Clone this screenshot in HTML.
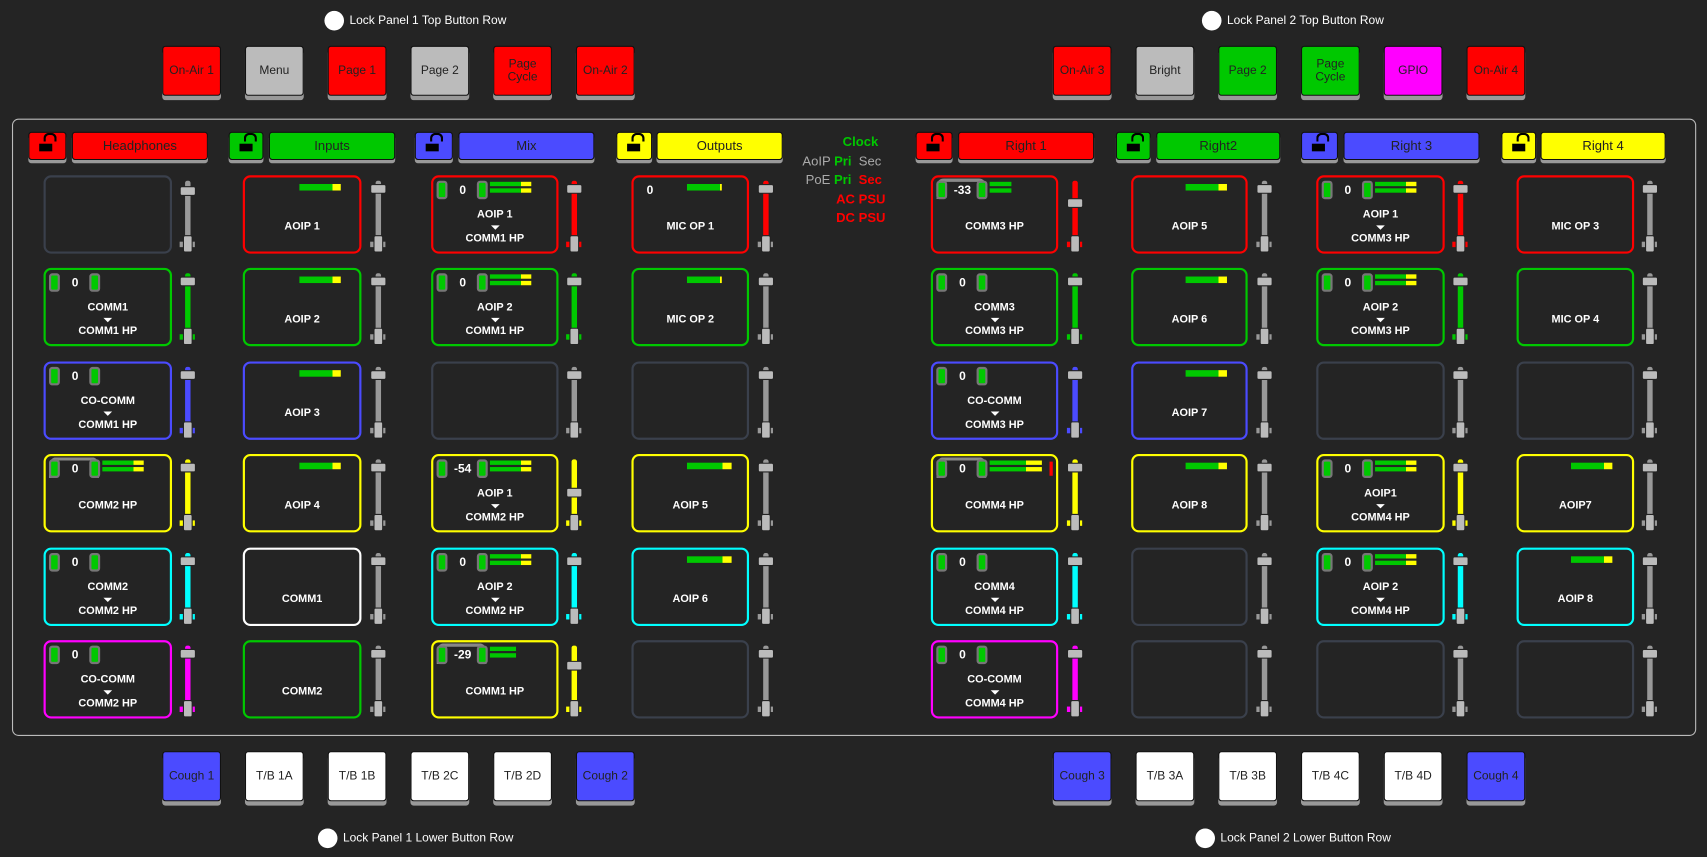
<!DOCTYPE html>
<html><head><meta charset="utf-8"><style>
html,body{margin:0;padding:0;background:#242424;width:1707px;height:857px;overflow:hidden}
#s{position:absolute;left:0;top:0;width:1568px;height:787px;transform:scale(1.0887);transform-origin:0 0;font-family:"Liberation Sans",sans-serif;color:#fff}
.a{position:absolute}
.lk{position:absolute;width:18px;height:18px;border-radius:50%;background:#fff}
.lt{position:absolute;font-size:11px;color:#fff;line-height:14px}
.bt{position:absolute;width:54px;height:46px;border:1px solid #111;border-radius:3px;box-sizing:border-box;box-shadow:0 4px 0 #999;color:#222;font-size:11px;display:flex;align-items:center;justify-content:center;text-align:center;line-height:12px}
.hl{position:absolute;top:121px;height:26px;border:1px solid #111;border-radius:3px;box-sizing:border-box;box-shadow:0 3px 0 #999;display:flex;align-items:center;justify-content:center;font-size:12px;color:#222}
.pad{position:absolute;width:8px;height:6px;border:2px solid #000;border-bottom:none;border-radius:5px 5px 0 0;top:0px;left:13px}
.pd2{position:absolute;width:12px;height:7px;background:#000;top:10px;left:9px}
.t{position:absolute;height:72px;border:2px solid #3a404c;border-radius:7px;box-sizing:border-box}
.m{position:absolute;top:6px;width:38px;height:6px;background:linear-gradient(to right,#00c800 80%,#ff0 80%)}
.l{position:absolute;left:0;right:0;text-align:center;top:40px;font-size:10px;font-weight:bold;line-height:12px}
.l1{top:29px}.l2{top:51px}
.tr{position:absolute;left:50%;margin-left:-4px;top:44px;width:0;height:0;border-left:4px solid transparent;border-right:4px solid transparent;border-top:4px solid #fff}
.p{position:absolute;top:3px;width:6px;height:13px;background:#00c800;border:2px solid #777;border-radius:3px}
.n{position:absolute;left:14px;width:26px;text-align:center;top:5px;font-size:11px;font-weight:bold;line-height:14px}
.mb{position:absolute;left:52px;width:38px;height:4px;background:linear-gradient(to right,#00c800 75%,#ff0 75%)}
.arc{position:absolute;left:3px;top:1px;width:40px;height:16px;border:3px solid #888;border-bottom:none;border-radius:7px 7px 0 0}
.fd{position:absolute;width:16px;height:72px}
.fd .k1{position:absolute;left:6px;top:5px;width:5px;height:58px;border-radius:2px}
.fd .k2{position:absolute;left:1px;width:13px;height:7px;background:#bbb;border:1px solid #222;border-radius:2px}
.fd .k3{position:absolute;left:1px;top:61px;width:14px;height:5px}
.fd .k4{position:absolute;left:4px;top:55px;width:7px;height:14px;background:#bbb;border:1px solid #222;border-radius:2px}
</style></head><body><div id="s">

<div class="lk" style="left:298px;top:10px"></div><div class="lt" style="left:321px;top:12px">Lock Panel 1 Top Button Row</div>
<div class="lk" style="left:1104px;top:10px"></div><div class="lt" style="left:1127px;top:12px">Lock Panel 2 Top Button Row</div>
<div class="lk" style="left:292px;top:761px"></div><div class="lt" style="left:315px;top:763px">Lock Panel 1 Lower Button Row</div>
<div class="lk" style="left:1098px;top:761px"></div><div class="lt" style="left:1121px;top:763px">Lock Panel 2 Lower Button Row</div>

<div class="bt" style="left:149px;top:42px;background:#f00">On-Air 1</div>
<div class="bt" style="left:225px;top:42px;background:#bbb">Menu</div>
<div class="bt" style="left:301px;top:42px;background:#f00">Page 1</div>
<div class="bt" style="left:377px;top:42px;background:#bbb">Page 2</div>
<div class="bt" style="left:453px;top:42px;background:#f00">Page<br>Cycle</div>
<div class="bt" style="left:529px;top:42px;background:#f00">On-Air 2</div>
<div class="bt" style="left:967px;top:42px;background:#f00">On-Air 3</div>
<div class="bt" style="left:1043px;top:42px;background:#bbb">Bright</div>
<div class="bt" style="left:1119px;top:42px;background:#00c800">Page 2</div>
<div class="bt" style="left:1195px;top:42px;background:#00c800">Page<br>Cycle</div>
<div class="bt" style="left:1271px;top:42px;background:#f0f">GPIO</div>
<div class="bt" style="left:1347px;top:42px;background:#f00">On-Air 4</div>

<div class="bt" style="left:149px;top:690px;background:#4b4bff">Cough 1</div>
<div class="bt" style="left:225px;top:690px;background:#fff">T/B 1A</div>
<div class="bt" style="left:301px;top:690px;background:#fff">T/B 1B</div>
<div class="bt" style="left:377px;top:690px;background:#fff">T/B 2C</div>
<div class="bt" style="left:453px;top:690px;background:#fff">T/B 2D</div>
<div class="bt" style="left:529px;top:690px;background:#4b4bff">Cough 2</div>
<div class="bt" style="left:967px;top:690px;background:#4b4bff">Cough 3</div>
<div class="bt" style="left:1043px;top:690px;background:#fff">T/B 3A</div>
<div class="bt" style="left:1119px;top:690px;background:#fff">T/B 3B</div>
<div class="bt" style="left:1195px;top:690px;background:#fff">T/B 4C</div>
<div class="bt" style="left:1271px;top:690px;background:#fff">T/B 4D</div>
<div class="bt" style="left:1347px;top:690px;background:#4b4bff">Cough 4</div>

<div class="a" style="left:11px;top:109px;width:1545px;height:565px;border:1px solid #bbb;border-radius:6px"></div>

<div class="hl" style="left:26px;width:35px;background:#f00"><div class="pad"></div><div class="pd2"></div></div><div class="hl" style="left:66px;width:125px;background:#f00">Headphones</div>
<div class="hl" style="left:210px;width:32px;background:#00c800"><div class="pad"></div><div class="pd2"></div></div><div class="hl" style="left:247px;width:116px;background:#00c800">Inputs</div>
<div class="hl" style="left:381px;width:35px;background:#4b4bff"><div class="pad"></div><div class="pd2"></div></div><div class="hl" style="left:421px;width:125px;background:#4b4bff">Mix</div>
<div class="hl" style="left:566px;width:33px;background:#ff0"><div class="pad"></div><div class="pd2"></div></div><div class="hl" style="left:603px;width:116px;background:#ff0">Outputs</div>
<div class="hl" style="left:841px;width:34px;background:#f00"><div class="pad"></div><div class="pd2"></div></div><div class="hl" style="left:880px;width:125px;background:#f00">Right 1</div>
<div class="hl" style="left:1025px;width:32px;background:#00c800"><div class="pad"></div><div class="pd2"></div></div><div class="hl" style="left:1062px;width:114px;background:#00c800">Right2</div>
<div class="hl" style="left:1195px;width:34px;background:#4b4bff"><div class="pad"></div><div class="pd2"></div></div><div class="hl" style="left:1234px;width:125px;background:#4b4bff">Right 3</div>
<div class="hl" style="left:1379px;width:32px;background:#ff0"><div class="pad"></div><div class="pd2"></div></div><div class="hl" style="left:1415px;width:115px;background:#ff0">Right 4</div>

<div class="a" style="left:774px;top:123px;font-size:12px;font-weight:bold;color:#00c800">Clock</div>
<div class="a" style="left:737px;top:141px;font-size:12px;color:#aaa">AoIP <b style="color:#00c800">Pri</b>&nbsp; Sec</div>
<div class="a" style="left:740px;top:158px;font-size:12px;color:#aaa">PoE <b style="color:#00c800">Pri</b>&nbsp; <b style="color:#f00">Sec</b></div>
<div class="a" style="left:768px;top:176px;font-size:12px;font-weight:bold;color:#f00">AC PSU</div>
<div class="a" style="left:768px;top:193px;font-size:12px;font-weight:bold;color:#f00">DC PSU</div>

<div class="t" style="left:40px;top:161px;width:118px"></div>
<div class="t" style="left:40px;top:246px;width:118px;border-color:#00c800"><div class="p" style="left:3px"></div><div class="n">0</div><div class="p" style="left:40px"></div><div class="l l1">COMM1</div><div class="tr"></div><div class="l l2">COMM1 HP</div></div>
<div class="t" style="left:40px;top:332px;width:118px;border-color:#4b4bff"><div class="p" style="left:3px"></div><div class="n">0</div><div class="p" style="left:40px"></div><div class="l l1">CO-COMM</div><div class="tr"></div><div class="l l2">COMM1 HP</div></div>
<div class="t" style="left:40px;top:417px;width:118px;border-color:#ff0"><div class="arc"></div><div class="p" style="left:3px"></div><div class="n">0</div><div class="p" style="left:40px"></div><div class="mb" style="top:4px"></div><div class="mb" style="top:10px"></div><div class="l">COMM2 HP</div></div>
<div class="t" style="left:40px;top:503px;width:118px;border-color:#0ff"><div class="p" style="left:3px"></div><div class="n">0</div><div class="p" style="left:40px"></div><div class="l l1">COMM2</div><div class="tr"></div><div class="l l2">COMM2 HP</div></div>
<div class="t" style="left:40px;top:588px;width:118px;border-color:#f0f"><div class="p" style="left:3px"></div><div class="n">0</div><div class="p" style="left:40px"></div><div class="l l1">CO-COMM</div><div class="tr"></div><div class="l l2">COMM2 HP</div></div>
<div class="fd" style="left:164px;top:161px"><div class="k1" style="background:#999"></div><div class="k3" style="background:#999"></div><div class="k2" style="top:10px"></div><div class="k4"></div></div>
<div class="fd" style="left:164px;top:246px"><div class="k1" style="background:#00c800"></div><div class="k3" style="background:#00c800"></div><div class="k2" style="top:8px"></div><div class="k4"></div></div>
<div class="fd" style="left:164px;top:332px"><div class="k1" style="background:#4b4bff"></div><div class="k3" style="background:#4b4bff"></div><div class="k2" style="top:8px"></div><div class="k4"></div></div>
<div class="fd" style="left:164px;top:417px"><div class="k1" style="background:#ff0"></div><div class="k3" style="background:#ff0"></div><div class="k2" style="top:8px"></div><div class="k4"></div></div>
<div class="fd" style="left:164px;top:503px"><div class="k1" style="background:#0ff"></div><div class="k3" style="background:#0ff"></div><div class="k2" style="top:8px"></div><div class="k4"></div></div>
<div class="fd" style="left:164px;top:588px"><div class="k1" style="background:#f0f"></div><div class="k3" style="background:#f0f"></div><div class="k2" style="top:8px"></div><div class="k4"></div></div>

<div class="t" style="left:223px;top:161px;width:109px;border-color:#f00"><div class="m" style="left:50px"></div><div class="l">AOIP 1</div></div>
<div class="t" style="left:223px;top:246px;width:109px;border-color:#00c800"><div class="m" style="left:50px"></div><div class="l">AOIP 2</div></div>
<div class="t" style="left:223px;top:332px;width:109px;border-color:#4b4bff"><div class="m" style="left:50px"></div><div class="l">AOIP 3</div></div>
<div class="t" style="left:223px;top:417px;width:109px;border-color:#ff0"><div class="m" style="left:50px"></div><div class="l">AOIP 4</div></div>
<div class="t" style="left:223px;top:503px;width:109px;border-color:#fff"><div class="l">COMM1</div></div>
<div class="t" style="left:223px;top:588px;width:109px;border-color:#00c800"><div class="l">COMM2</div></div>
<div class="fd" style="left:339px;top:161px"><div class="k1" style="background:#999"></div><div class="k3" style="background:#999"></div><div class="k2" style="top:8px"></div><div class="k4"></div></div>
<div class="fd" style="left:339px;top:246px"><div class="k1" style="background:#999"></div><div class="k3" style="background:#999"></div><div class="k2" style="top:8px"></div><div class="k4"></div></div>
<div class="fd" style="left:339px;top:332px"><div class="k1" style="background:#999"></div><div class="k3" style="background:#999"></div><div class="k2" style="top:8px"></div><div class="k4"></div></div>
<div class="fd" style="left:339px;top:417px"><div class="k1" style="background:#999"></div><div class="k3" style="background:#999"></div><div class="k2" style="top:8px"></div><div class="k4"></div></div>
<div class="fd" style="left:339px;top:503px"><div class="k1" style="background:#999"></div><div class="k3" style="background:#999"></div><div class="k2" style="top:8px"></div><div class="k4"></div></div>
<div class="fd" style="left:339px;top:588px"><div class="k1" style="background:#999"></div><div class="k3" style="background:#999"></div><div class="k2" style="top:8px"></div><div class="k4"></div></div>

<div class="t" style="left:396px;top:161px;width:117px;border-color:#f00"><div class="p" style="left:3px"></div><div class="n">0</div><div class="p" style="left:40px"></div><div class="mb" style="top:4px"></div><div class="mb" style="top:10px"></div><div class="l l1">AOIP 1</div><div class="tr"></div><div class="l l2">COMM1 HP</div></div>
<div class="t" style="left:396px;top:246px;width:117px;border-color:#00c800"><div class="p" style="left:3px"></div><div class="n">0</div><div class="p" style="left:40px"></div><div class="mb" style="top:4px"></div><div class="mb" style="top:10px"></div><div class="l l1">AOIP 2</div><div class="tr"></div><div class="l l2">COMM1 HP</div></div>
<div class="t" style="left:396px;top:332px;width:117px"></div>
<div class="t" style="left:396px;top:417px;width:117px;border-color:#ff0"><div class="p" style="left:3px"></div><div class="n">-54</div><div class="p" style="left:40px"></div><div class="mb" style="top:4px"></div><div class="mb" style="top:10px"></div><div class="l l1">AOIP 1</div><div class="tr"></div><div class="l l2">COMM2 HP</div></div>
<div class="t" style="left:396px;top:503px;width:117px;border-color:#0ff"><div class="p" style="left:3px"></div><div class="n">0</div><div class="p" style="left:40px"></div><div class="mb" style="top:4px"></div><div class="mb" style="top:10px"></div><div class="l l1">AOIP 2</div><div class="tr"></div><div class="l l2">COMM2 HP</div></div>
<div class="t" style="left:396px;top:588px;width:117px;border-color:#ff0"><div class="arc"></div><div class="p" style="left:3px"></div><div class="n">-29</div><div class="p" style="left:40px"></div><div class="mb" style="top:4px;width:24px;background:#00c800"></div><div class="mb" style="top:10px;width:24px;background:#00c800"></div><div class="l">COMM1 HP</div></div>
<div class="fd" style="left:519px;top:161px"><div class="k1" style="background:#f00"></div><div class="k3" style="background:#f00"></div><div class="k2" style="top:8px"></div><div class="k4"></div></div>
<div class="fd" style="left:519px;top:246px"><div class="k1" style="background:#00c800"></div><div class="k3" style="background:#00c800"></div><div class="k2" style="top:8px"></div><div class="k4"></div></div>
<div class="fd" style="left:519px;top:332px"><div class="k1" style="background:#999"></div><div class="k3" style="background:#999"></div><div class="k2" style="top:8px"></div><div class="k4"></div></div>
<div class="fd" style="left:519px;top:417px"><div class="k1" style="background:#ff0"></div><div class="k3" style="background:#ff0"></div><div class="k2" style="top:31px"></div><div class="k4"></div></div>
<div class="fd" style="left:519px;top:503px"><div class="k1" style="background:#0ff"></div><div class="k3" style="background:#0ff"></div><div class="k2" style="top:8px"></div><div class="k4"></div></div>
<div class="fd" style="left:519px;top:588px"><div class="k1" style="background:#ff0"></div><div class="k3" style="background:#ff0"></div><div class="k2" style="top:19px"></div><div class="k4"></div></div>

<div class="t" style="left:580px;top:161px;width:108px;border-color:#f00"><div class="n" style="left:2px">0</div><div class="m" style="left:49px;width:32px;background:linear-gradient(to right,#00c800 95%,#ff0 95%)"></div><div class="l">MIC OP 1</div></div>
<div class="t" style="left:580px;top:246px;width:108px;border-color:#00c800"><div class="m" style="left:49px;width:32px;background:linear-gradient(to right,#00c800 95%,#ff0 95%)"></div><div class="l">MIC OP 2</div></div>
<div class="t" style="left:580px;top:332px;width:108px"></div>
<div class="t" style="left:580px;top:417px;width:108px;border-color:#ff0"><div class="m" style="left:49px;width:41px"></div><div class="l">AOIP 5</div></div>
<div class="t" style="left:580px;top:503px;width:108px;border-color:#0ff"><div class="m" style="left:49px;width:41px"></div><div class="l">AOIP 6</div></div>
<div class="t" style="left:580px;top:588px;width:108px"></div>
<div class="fd" style="left:695px;top:161px"><div class="k1" style="background:#f00"></div><div class="k3" style="background:#999"></div><div class="k2" style="top:8px"></div><div class="k4"></div></div>
<div class="fd" style="left:695px;top:246px"><div class="k1" style="background:#999"></div><div class="k3" style="background:#999"></div><div class="k2" style="top:8px"></div><div class="k4"></div></div>
<div class="fd" style="left:695px;top:332px"><div class="k1" style="background:#999"></div><div class="k3" style="background:#999"></div><div class="k2" style="top:8px"></div><div class="k4"></div></div>
<div class="fd" style="left:695px;top:417px"><div class="k1" style="background:#999"></div><div class="k3" style="background:#999"></div><div class="k2" style="top:8px"></div><div class="k4"></div></div>
<div class="fd" style="left:695px;top:503px"><div class="k1" style="background:#999"></div><div class="k3" style="background:#999"></div><div class="k2" style="top:8px"></div><div class="k4"></div></div>
<div class="fd" style="left:695px;top:588px"><div class="k1" style="background:#999"></div><div class="k3" style="background:#999"></div><div class="k2" style="top:8px"></div><div class="k4"></div></div>

<div class="t" style="left:855px;top:161px;width:117px;border-color:#f00"><div class="arc"></div><div class="p" style="left:3px"></div><div class="n">-33</div><div class="p" style="left:40px"></div><div class="mb" style="top:4px;width:20px;background:#00c800"></div><div class="mb" style="top:10px;width:20px;background:#00c800"></div><div class="l">COMM3 HP</div></div>
<div class="t" style="left:855px;top:246px;width:117px;border-color:#00c800"><div class="p" style="left:3px"></div><div class="n">0</div><div class="p" style="left:40px"></div><div class="l l1">COMM3</div><div class="tr"></div><div class="l l2">COMM3 HP</div></div>
<div class="t" style="left:855px;top:332px;width:117px;border-color:#4b4bff"><div class="p" style="left:3px"></div><div class="n">0</div><div class="p" style="left:40px"></div><div class="l l1">CO-COMM</div><div class="tr"></div><div class="l l2">COMM3 HP</div></div>
<div class="t" style="left:855px;top:417px;width:117px;border-color:#ff0"><div class="arc"></div><div class="p" style="left:3px"></div><div class="n">0</div><div class="p" style="left:40px"></div><div class="mb" style="top:4px;width:48px;background:linear-gradient(to right,#00c800 70%,#ff0 70%)"></div><div class="mb" style="top:10px;width:48px;background:linear-gradient(to right,#00c800 70%,#ff0 70%)"></div><div class="a" style="left:107px;top:5px;width:3px;height:13px;background:#f00"></div><div class="l">COMM4 HP</div></div>
<div class="t" style="left:855px;top:503px;width:117px;border-color:#0ff"><div class="p" style="left:3px"></div><div class="n">0</div><div class="p" style="left:40px"></div><div class="l l1">COMM4</div><div class="tr"></div><div class="l l2">COMM4 HP</div></div>
<div class="t" style="left:855px;top:588px;width:117px;border-color:#f0f"><div class="p" style="left:3px"></div><div class="n">0</div><div class="p" style="left:40px"></div><div class="l l1">CO-COMM</div><div class="tr"></div><div class="l l2">COMM4 HP</div></div>
<div class="fd" style="left:979px;top:161px"><div class="k1" style="background:#f00"></div><div class="k3" style="background:#f00"></div><div class="k2" style="top:21px"></div><div class="k4"></div></div>
<div class="fd" style="left:979px;top:246px"><div class="k1" style="background:#00c800"></div><div class="k3" style="background:#00c800"></div><div class="k2" style="top:8px"></div><div class="k4"></div></div>
<div class="fd" style="left:979px;top:332px"><div class="k1" style="background:#4b4bff"></div><div class="k3" style="background:#4b4bff"></div><div class="k2" style="top:8px"></div><div class="k4"></div></div>
<div class="fd" style="left:979px;top:417px"><div class="k1" style="background:#ff0"></div><div class="k3" style="background:#ff0"></div><div class="k2" style="top:8px"></div><div class="k4"></div></div>
<div class="fd" style="left:979px;top:503px"><div class="k1" style="background:#0ff"></div><div class="k3" style="background:#0ff"></div><div class="k2" style="top:8px"></div><div class="k4"></div></div>
<div class="fd" style="left:979px;top:588px"><div class="k1" style="background:#f0f"></div><div class="k3" style="background:#f0f"></div><div class="k2" style="top:8px"></div><div class="k4"></div></div>

<div class="t" style="left:1039px;top:161px;width:107px;border-color:#f00"><div class="m" style="left:48px"></div><div class="l">AOIP 5</div></div>
<div class="t" style="left:1039px;top:246px;width:107px;border-color:#00c800"><div class="m" style="left:48px"></div><div class="l">AOIP 6</div></div>
<div class="t" style="left:1039px;top:332px;width:107px;border-color:#4b4bff"><div class="m" style="left:48px"></div><div class="l">AOIP 7</div></div>
<div class="t" style="left:1039px;top:417px;width:107px;border-color:#ff0"><div class="m" style="left:48px"></div><div class="l">AOIP 8</div></div>
<div class="t" style="left:1039px;top:503px;width:107px"></div>
<div class="t" style="left:1039px;top:588px;width:107px"></div>
<div class="fd" style="left:1153px;top:161px"><div class="k1" style="background:#999"></div><div class="k3" style="background:#999"></div><div class="k2" style="top:8px"></div><div class="k4"></div></div>
<div class="fd" style="left:1153px;top:246px"><div class="k1" style="background:#999"></div><div class="k3" style="background:#999"></div><div class="k2" style="top:8px"></div><div class="k4"></div></div>
<div class="fd" style="left:1153px;top:332px"><div class="k1" style="background:#999"></div><div class="k3" style="background:#999"></div><div class="k2" style="top:8px"></div><div class="k4"></div></div>
<div class="fd" style="left:1153px;top:417px"><div class="k1" style="background:#999"></div><div class="k3" style="background:#999"></div><div class="k2" style="top:8px"></div><div class="k4"></div></div>
<div class="fd" style="left:1153px;top:503px"><div class="k1" style="background:#999"></div><div class="k3" style="background:#999"></div><div class="k2" style="top:8px"></div><div class="k4"></div></div>
<div class="fd" style="left:1153px;top:588px"><div class="k1" style="background:#999"></div><div class="k3" style="background:#999"></div><div class="k2" style="top:8px"></div><div class="k4"></div></div>

<div class="t" style="left:1209px;top:161px;width:118px;border-color:#f00"><div class="p" style="left:3px"></div><div class="n">0</div><div class="p" style="left:40px"></div><div class="mb" style="top:4px"></div><div class="mb" style="top:10px"></div><div class="l l1">AOIP 1</div><div class="tr"></div><div class="l l2">COMM3 HP</div></div>
<div class="t" style="left:1209px;top:246px;width:118px;border-color:#00c800"><div class="p" style="left:3px"></div><div class="n">0</div><div class="p" style="left:40px"></div><div class="mb" style="top:4px"></div><div class="mb" style="top:10px"></div><div class="l l1">AOIP 2</div><div class="tr"></div><div class="l l2">COMM3 HP</div></div>
<div class="t" style="left:1209px;top:332px;width:118px"></div>
<div class="t" style="left:1209px;top:417px;width:118px;border-color:#ff0"><div class="p" style="left:3px"></div><div class="n">0</div><div class="p" style="left:40px"></div><div class="mb" style="top:4px"></div><div class="mb" style="top:10px"></div><div class="l l1">AOIP1</div><div class="tr"></div><div class="l l2">COMM4 HP</div></div>
<div class="t" style="left:1209px;top:503px;width:118px;border-color:#0ff"><div class="p" style="left:3px"></div><div class="n">0</div><div class="p" style="left:40px"></div><div class="mb" style="top:4px"></div><div class="mb" style="top:10px"></div><div class="l l1">AOIP 2</div><div class="tr"></div><div class="l l2">COMM4 HP</div></div>
<div class="t" style="left:1209px;top:588px;width:118px"></div>
<div class="fd" style="left:1333px;top:161px"><div class="k1" style="background:#f00"></div><div class="k3" style="background:#f00"></div><div class="k2" style="top:8px"></div><div class="k4"></div></div>
<div class="fd" style="left:1333px;top:246px"><div class="k1" style="background:#00c800"></div><div class="k3" style="background:#00c800"></div><div class="k2" style="top:8px"></div><div class="k4"></div></div>
<div class="fd" style="left:1333px;top:332px"><div class="k1" style="background:#999"></div><div class="k3" style="background:#999"></div><div class="k2" style="top:8px"></div><div class="k4"></div></div>
<div class="fd" style="left:1333px;top:417px"><div class="k1" style="background:#ff0"></div><div class="k3" style="background:#ff0"></div><div class="k2" style="top:8px"></div><div class="k4"></div></div>
<div class="fd" style="left:1333px;top:503px"><div class="k1" style="background:#0ff"></div><div class="k3" style="background:#0ff"></div><div class="k2" style="top:8px"></div><div class="k4"></div></div>
<div class="fd" style="left:1333px;top:588px"><div class="k1" style="background:#999"></div><div class="k3" style="background:#999"></div><div class="k2" style="top:8px"></div><div class="k4"></div></div>

<div class="t" style="left:1393px;top:161px;width:108px;border-color:#f00"><div class="l">MIC OP 3</div></div>
<div class="t" style="left:1393px;top:246px;width:108px;border-color:#00c800"><div class="l">MIC OP 4</div></div>
<div class="t" style="left:1393px;top:332px;width:108px"></div>
<div class="t" style="left:1393px;top:417px;width:108px;border-color:#ff0"><div class="m" style="left:48px"></div><div class="l">AOIP7</div></div>
<div class="t" style="left:1393px;top:503px;width:108px;border-color:#0ff"><div class="m" style="left:48px"></div><div class="l">AOIP 8</div></div>
<div class="t" style="left:1393px;top:588px;width:108px"></div>
<div class="fd" style="left:1507px;top:161px"><div class="k1" style="background:#999"></div><div class="k3" style="background:#999"></div><div class="k2" style="top:8px"></div><div class="k4"></div></div>
<div class="fd" style="left:1507px;top:246px"><div class="k1" style="background:#999"></div><div class="k3" style="background:#999"></div><div class="k2" style="top:8px"></div><div class="k4"></div></div>
<div class="fd" style="left:1507px;top:332px"><div class="k1" style="background:#999"></div><div class="k3" style="background:#999"></div><div class="k2" style="top:8px"></div><div class="k4"></div></div>
<div class="fd" style="left:1507px;top:417px"><div class="k1" style="background:#999"></div><div class="k3" style="background:#999"></div><div class="k2" style="top:8px"></div><div class="k4"></div></div>
<div class="fd" style="left:1507px;top:503px"><div class="k1" style="background:#999"></div><div class="k3" style="background:#999"></div><div class="k2" style="top:8px"></div><div class="k4"></div></div>
<div class="fd" style="left:1507px;top:588px"><div class="k1" style="background:#999"></div><div class="k3" style="background:#999"></div><div class="k2" style="top:8px"></div><div class="k4"></div></div>

</div></body></html>
